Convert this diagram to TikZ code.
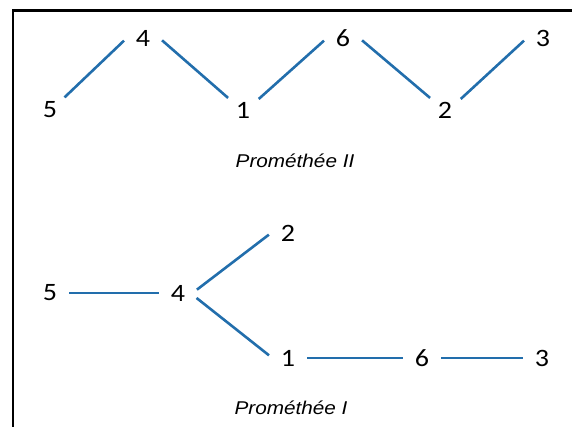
\documentclass[tikz,border=0pt]{standalone}
\usepackage{fontspec}
\newfontfamily\digitfont[FakeStretch=1.12]{Carlito}
\newfontfamily\promfont[FakeStretch=1.12]{Liberation Sans}
\definecolor{linkblue}{RGB}{34,110,172}
\tikzset{
  num/.style={circle, minimum size=38pt, inner sep=0pt, font=\digitfont\fontsize{25}{25}\selectfont},
  link/.style={line width=2.6pt, color=linkblue},
  title/.style={font=\promfont\itshape\fontsize{18.5}{18.5}\selectfont}
}

\begin{document}
\begin{tikzpicture}[x=1pt, y=-1pt]
			%%%%% START %%%%%
			\useasboundingbox (0,0) rectangle (572,427);
			\draw[line width=2.5pt] (13,427) -- (13,10.5) -- (572,10.5);
			
			% Promethee II
			\node[num] (t5) at (50, 110) {5};
			\node[num] (t4) at (143, 38) {4};
			\node[num] (t1) at (243, 110) {1};
			\node[num] (t6) at (343, 38) {6};
			\node[num] (t2) at (445, 110) {2};
			\node[num] (t3) at (543, 38) {3};
			
			\draw[link] (t5.41) -- (t4.188);
			\draw[link] (t4.353) -- (t1.141);
			\draw[link] (t1.35) -- (t6.188);
			\draw[link] (t6.353) -- (t2.141);
			\draw[link] (t2.35) -- (t3.188);
			
			\node[title] (titleII) at (295, 161) {Prométhée II};
			
			% Promethee I
			\node[num] (b5) at (50, 293) {5};
			\node[num] (b4) at (178, 293) {4};
			\node[num] (b2) at (288, 233) {2};
			\node[num] (b1) at (288, 358) {1};
			\node[num] (b6) at (422, 358) {6};
			\node[num] (b3) at (542, 358) {3};
			
			\draw[link] (b5) -- (b4);
			\draw[link] (b4.10) -- (b2.185);
			\draw[link] (b4.345) -- (b1.172);
			\draw[link] (b1) -- (b6);
			\draw[link] (b6) -- (b3);
			
			\node[title] (titleI) at (291, 408) {Prométhée I};
			%%%%% END %%%%%
\end{tikzpicture}
\end{document}
